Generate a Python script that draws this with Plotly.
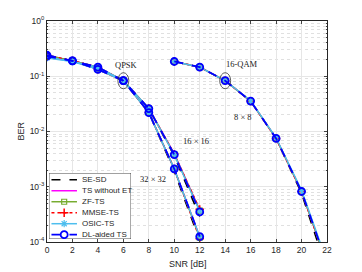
import math
import plotly.graph_objects as go

# ---- data ----
snr_qpsk = [0, 2, 4, 6, 8, 10, 12]
snr_qam = [10, 12, 14, 16, 18, 20, 22]

series_names = ["SE-SD", "TS without ET", "ZF-TS", "MMSE-TS", "OSIC-TS", "DL-aided TS"]

# QPSK 32x32
qpsk32 = {
    "SE-SD":          [0.240, 0.190, 0.133, 0.083, 0.022, 0.0019, 1.05e-4],
    "TS without ET":  [0.240, 0.190, 0.134, 0.083, 0.022, 0.0021, 1.25e-4],
    "ZF-TS":          [0.240, 0.190, 0.134, 0.083, 0.022, 0.0021, 1.20e-4],
    "MMSE-TS":        [0.240, 0.190, 0.134, 0.083, 0.022, 0.0021, 1.15e-4],
    "OSIC-TS":        [0.222, 0.185, 0.134, 0.083, 0.022, 0.0021, 1.25e-4],
    "DL-aided TS":    [0.240, 0.190, 0.133, 0.083, 0.022, 0.0021, 1.25e-4],
}
# QPSK 16x16
qpsk16 = {
    "SE-SD":          [0.230, 0.190, 0.146, 0.083, 0.026, 0.0036, 2.9e-4],
    "TS without ET":  [0.230, 0.190, 0.146, 0.083, 0.026, 0.0040, 3.8e-4],
    "ZF-TS":          [0.230, 0.190, 0.146, 0.083, 0.026, 0.0039, 3.7e-4],
    "MMSE-TS":        [0.230, 0.190, 0.146, 0.083, 0.026, 0.0039, 3.9e-4],
    "OSIC-TS":        [0.215, 0.185, 0.146, 0.083, 0.026, 0.0038, 3.6e-4],
    "DL-aided TS":    [0.230, 0.190, 0.146, 0.083, 0.026, 0.0038, 3.5e-4],
}
# 16-QAM 8x8
qam8 = {
    "SE-SD":          [0.185, 0.146, 0.083, 0.0355, 0.0075, 7.6e-4, 3.0e-5],
    "TS without ET":  [0.185, 0.146, 0.083, 0.0355, 0.0075, 8.2e-4, 4.0e-5],
    "ZF-TS":          [0.185, 0.146, 0.083, 0.0355, 0.0075, 8.2e-4, 4.0e-5],
    "MMSE-TS":        [0.185, 0.146, 0.083, 0.0355, 0.0075, 8.2e-4, 4.0e-5],
    "OSIC-TS":        [0.185, 0.146, 0.083, 0.0360, 0.0077, 8.6e-4, 4.4e-5],
    "DL-aided TS":    [0.185, 0.146, 0.083, 0.0355, 0.0075, 8.2e-4, 4.0e-5],
}

x_ticks = [0, 2, 4, 6, 8, 10, 12, 14, 16, 18, 20, 22]
y_tickvals = [1e-4, 1e-3, 1e-2, 1e-1, 1e0]
y_ticktext = ["10<sup>-4</sup>", "10<sup>-3</sup>", "10<sup>-2</sup>", "10<sup>-1</sup>", "10<sup>0</sup>"]

styles = {
    "SE-SD":         dict(line=dict(color="black", width=1.5, dash="dash"), mode="lines"),
    "TS without ET": dict(line=dict(color="#FF00FF", width=1.5), mode="lines"),
    "ZF-TS":         dict(line=dict(color="#77AC30", width=1.5), mode="lines+markers",
                          marker=dict(symbol="square-open", size=5, color="#77AC30", line=dict(width=1.2))),
    "MMSE-TS":       dict(line=dict(color="red", width=1.5, dash="dot"), mode="lines+markers",
                          marker=dict(symbol="cross-thin-open", size=6, color="red", line=dict(width=1.5, color="red"))),
    "OSIC-TS":       dict(line=dict(color="#4DBEEE", width=1.5), mode="lines+markers",
                          marker=dict(symbol="asterisk-open", size=6, color="#4DBEEE", line=dict(width=1.2, color="#4DBEEE"))),
    "DL-aided TS":   dict(line=dict(color="#0000FF", width=1.8, dash="dash"), mode="lines+markers",
                          marker=dict(symbol="circle-open", size=7, color="#0000FF", line=dict(width=1.8, color="#0000FF"))),
}

fig = go.Figure()
for name in series_names:
    for xs, d in [(snr_qpsk, qpsk32), (snr_qpsk, qpsk16), (snr_qam, qam8)]:
        fig.add_trace(go.Scatter(x=xs, y=d[name], name=name, showlegend=False,
                                 xaxis="x", yaxis="y", **styles[name]))

# ---- compact MATLAB-style legend on its own small axes (pixel units) ----
LW, LH = 82, 66
fig.add_trace(go.Scatter(x=[0, LW, LW, 0, 0], y=[0, 0, LH, LH, 0], mode="lines", fill="toself",
                         fillcolor="white", line=dict(color="#262626", width=0.8),
                         showlegend=False, hoverinfo="skip", xaxis="x2", yaxis="y2"))
leg_ann = []
for i, name in enumerate(series_names):
    yc = LH - 6.7 - 11 * i
    st = styles[name]
    fig.add_trace(go.Scatter(x=[2.5, 28], y=[yc, yc], mode="lines", line=st["line"],
                             showlegend=False, hoverinfo="skip", xaxis="x2", yaxis="y2"))
    if "marker" in st:
        fig.add_trace(go.Scatter(x=[15.2], y=[yc], mode="markers", marker=st["marker"],
                                 showlegend=False, hoverinfo="skip", xaxis="x2", yaxis="y2"))
    leg_ann.append(dict(x=31, y=yc, xref="x2", yref="y2", text=name, showarrow=False,
                        xanchor="left", yanchor="middle",
                        font=dict(family="Liberation Sans", size=8, color="#262626")))

serif = "Liberation Serif"
ann = [
    dict(x=6, y=math.log10(0.083), text="QPSK", xshift=3.5, yshift=16),
    dict(x=14, y=math.log10(0.083), text="16-QAM", xshift=16.5, yshift=16.5),
    dict(x=16, y=math.log10(0.0355), text="8 × 8", xshift=-7.5, yshift=-15.5),
    dict(x=12, y=math.log10(0.0036), text="16 × 16", xshift=-3.5, yshift=15),
    dict(x=10, y=math.log10(0.0021), text="32 × 32", xshift=-21.5, yshift=-9.7),
]
annotations = [dict(xref="x", yref="y", showarrow=False,
                    font=dict(family=serif, size=8.5, color="#222"), **a) for a in ann]
annotations += [
    dict(text="SNR [dB]", xref="paper", yref="paper", x=0.503, y=-0.0995, yanchor="middle",
         showarrow=False, font=dict(family="Liberation Sans", size=9, color="#262626")),
    dict(text="BER", xref="paper", yref="paper", x=-0.096, y=0.5, textangle=-90,
         xanchor="center", yanchor="middle",
         showarrow=False, font=dict(family="Liberation Sans", size=9, color="#262626")),
]
annotations += leg_ann

# ellipses highlighting the 6 dB (QPSK) and 14 dB (16-QAM) points; shapes on log axes take data values
shapes = []
for xc, yc in [(6, 0.083), (14, 0.083)]:
    ly = math.log10(yc)
    shapes.append(dict(type="circle", xref="x", yref="y",
                       x0=xc - 0.43, x1=xc + 0.43, y0=10 ** (ly - 0.145), y1=10 ** (ly + 0.145),
                       line=dict(color="#333", width=0.8), layer="above"))

fig.update_layout(
    template="none",
    width=354, height=264,
    margin=dict(l=39, r=35, t=13, b=30),
    paper_bgcolor="white", plot_bgcolor="white",
    font=dict(family="Liberation Sans", size=8.5, color="#262626"),
    showlegend=False,
    annotations=annotations,
    shapes=shapes,
    xaxis=dict(range=[0, 22], tickvals=x_ticks, ticks="inside", ticklen=3,
               showline=True, linecolor="#262626", linewidth=0.8, mirror="allticks",
               showgrid=True, gridcolor="#e6e6e6", gridwidth=0.7, zeroline=False,
               tickfont=dict(size=8.5), automargin=False, domain=[0, 1]),
    yaxis=dict(type="log", range=[-4, 0], tickvals=y_tickvals, ticktext=y_ticktext,
               ticks="inside", ticklen=3,
               showline=True, linecolor="#262626", linewidth=0.8, mirror="allticks",
               showgrid=True, gridcolor="#e6e6e6", gridwidth=0.7, zeroline=False,
               tickfont=dict(size=8.5), automargin=False, domain=[0, 1],
               minor=dict(tickvals=[m * 10 ** e for e in range(-4, 0) for m in range(2, 10)],
                          ticks="inside", ticklen=1.5, showgrid=True,
                          gridcolor="#e0e0e0", griddash="dot", gridwidth=0.7)),
    xaxis2=dict(domain=[0.007, 0.30], range=[0, LW], visible=False, anchor="y2", fixedrange=True),
    yaxis2=dict(domain=[0.0136, 0.312], range=[0, LH], visible=False, anchor="x2", fixedrange=True),
)

fig.write_html("out.html")
